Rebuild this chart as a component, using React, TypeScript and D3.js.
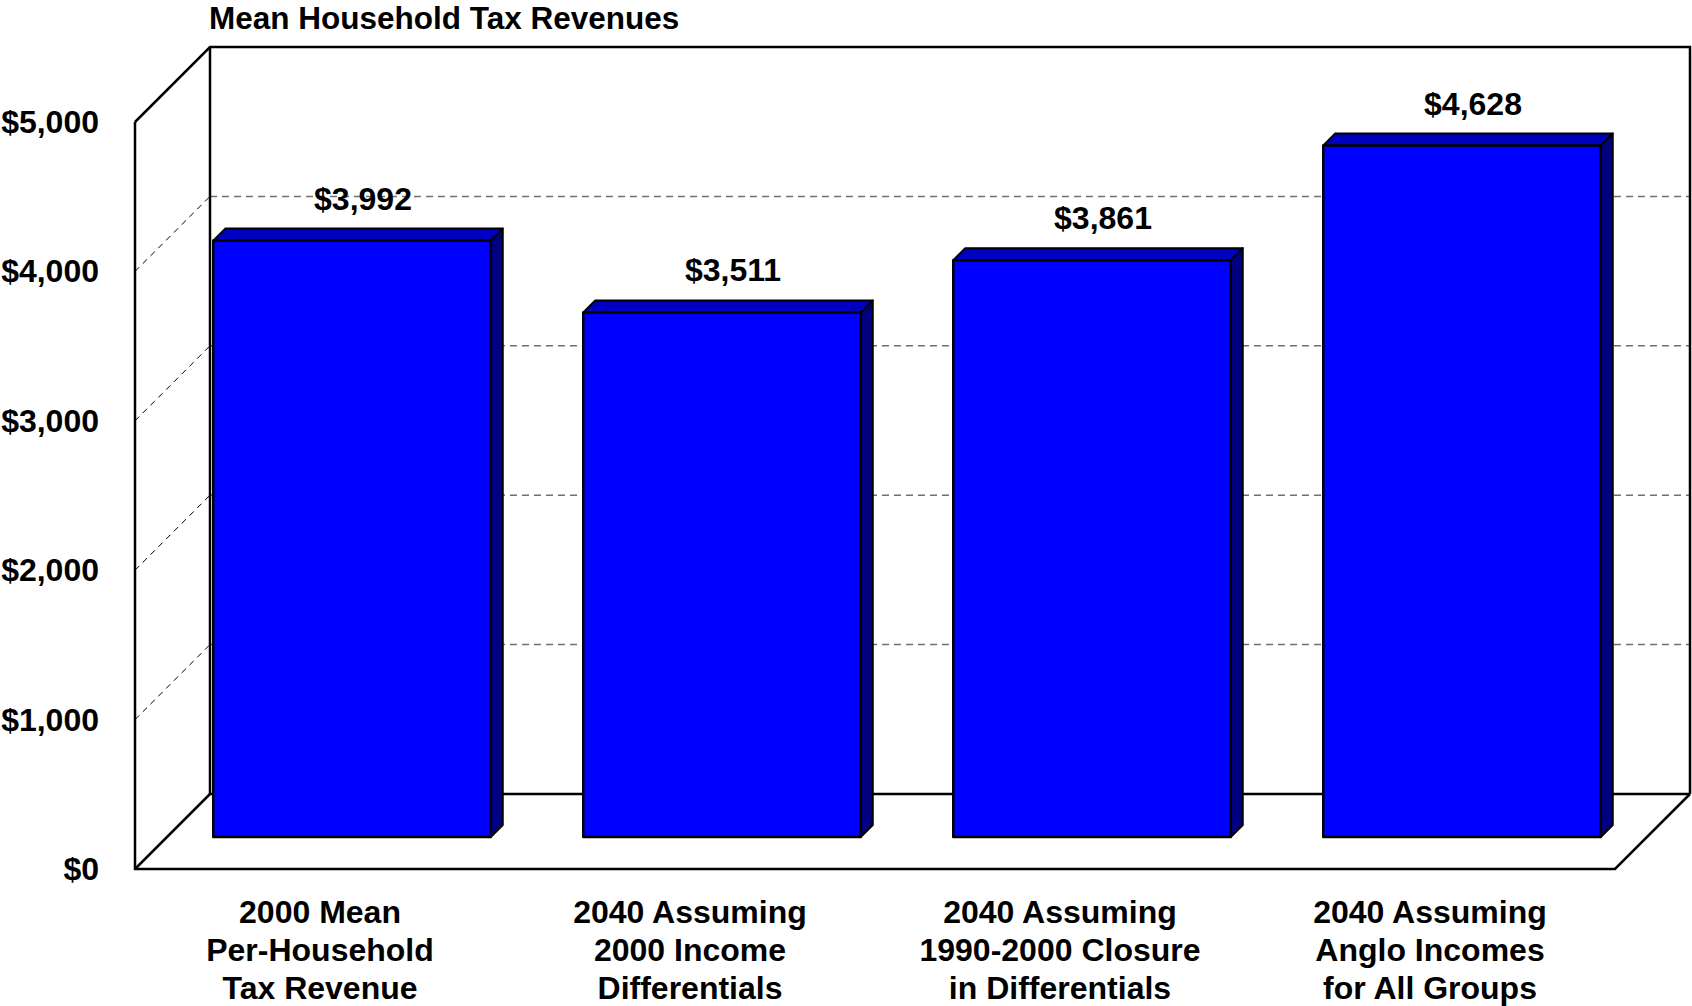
import React from "react";
import * as d3 from "d3";

const title = "Mean Household Tax Revenues";
const categories = [
  ["2000 Mean", "Per-Household", "Tax Revenue"],
  ["2040 Assuming", "2000 Income", "Differentials"],
  ["2040 Assuming", "1990-2000 Closure", "in Differentials"],
  ["2040 Assuming", "Anglo Incomes", "for All Groups"],
];
const values = [3992, 3511, 3861, 4628];
const valueLabels = ["$3,992", "$3,511", "$3,861", "$4,628"];
const yTicks = [0, 1000, 2000, 3000, 4000, 5000];
const yTickLabels = ["$0", "$1,000", "$2,000", "$3,000", "$4,000", "$5,000"];

const W = 1692;
const H = 1006;
const FONT = "'Liberation Sans', Arial, sans-serif";

export default function App() {
  // geometry of the 3D box
  const x0 = 135, x1 = 1615;
  const floorY = 869;
  const depth = 75; // offset to back wall (x +, y -)
  const barDepthFront = 32;
  const barDepth = 12;

  const y = d3.scaleLinear().domain([0, 5000]).range([floorY, 122]);
  const x = d3
    .scaleBand<number>()
    .domain(d3.range(categories.length))
    .range([x0, x1])
    .paddingInner(0.25)
    .paddingOuter(0.125);

  const lw = 2.5;
  const gridTicks = yTicks.filter((t) => t > 0 && t < 5000);

  return (
    <svg
      width={W}
      height={H}
      style={{ position: "absolute", left: 0, top: 0, background: "#fff" }}
      fontFamily={FONT}
      fontWeight="bold"
    >
      <rect x={0} y={0} width={W} height={H} fill="#fff" />
      {/* title */}
      <text x={209} y={29} fontSize={31.5} fill="#000">
        {title}
      </text>

      {/* back wall gridlines */}
      {gridTicks.map((t) => (
        <line
          key={"g" + t}
          x1={x0 + depth}
          x2={x1 + depth}
          y1={y(t) - depth}
          y2={y(t) - depth}
          stroke="#707070"
          strokeWidth={1.5}
          strokeDasharray="7,5"
        />
      ))}
      {/* side wall diagonal gridlines */}
      {gridTicks.map((t) => (
        <line
          key={"d" + t}
          x1={x0}
          x2={x0 + depth}
          y1={y(t)}
          y2={y(t) - depth}
          stroke="#000"
          strokeWidth={1}
          strokeDasharray="6,5"
        />
      ))}

      {/* walls and floor outlines */}
      <g stroke="#000" strokeWidth={lw} fill="none" strokeLinejoin="miter">
        <polyline
          points={`${x0},${y(5000)} ${x0 + depth},${y(5000) - depth} ${x1 + depth},${y(5000) - depth} ${x1 + depth},${floorY - depth}`}
        />
        <line x1={x0 + depth} x2={x0 + depth} y1={y(5000) - depth} y2={floorY - depth} />
        <line x1={x0 + depth} x2={x1 + depth} y1={floorY - depth} y2={floorY - depth} />
        <line x1={x0} x2={x0 + depth} y1={floorY} y2={floorY - depth} />
        <polyline
          points={`${x0},${y(5000)} ${x0},${floorY} ${x1},${floorY} ${x1 + depth},${floorY - depth}`}
        />
      </g>

      {/* bars */}
      {values.map((v, i) => {
        const fx = (x(i) as number) + barDepthFront;
        const w = x.bandwidth();
        const bottom = y(0) - barDepthFront;
        const top = y(v) - barDepthFront;
        const d = barDepth;
        return (
          <g key={"b" + i} stroke="#000" strokeWidth={2} strokeLinejoin="round">
            <polygon
              points={`${fx + w},${top} ${fx + w + d},${top - d} ${fx + w + d},${bottom - d} ${fx + w},${bottom}`}
              fill="#000080"
            />
            <polygon
              points={`${fx},${top} ${fx + d},${top - d} ${fx + w + d},${top - d} ${fx + w},${top}`}
              fill="#0000C0"
            />
            <rect x={fx} y={top} width={w} height={bottom - top} fill="#0000FF" strokeWidth={2.5} />
          </g>
        );
      })}

      {/* value labels */}
      {values.map((v, i) => {
        const cx = (x(i) as number) + barDepthFront + x.bandwidth() / 2 + 11;
        const backTop = y(v) - barDepthFront - barDepth;
        return (
          <text key={"v" + i} x={cx} y={backTop - 19} fontSize={32} textAnchor="middle" fill="#000">
            {valueLabels[i]}
          </text>
        );
      })}

      {/* y tick labels */}
      {yTicks.map((t, i) => (
        <text key={"y" + t} x={99} y={y(t) + 11} fontSize={32} textAnchor="end" fill="#000">
          {yTickLabels[i]}
        </text>
      ))}

      {/* category labels */}
      {categories.map((lines, i) => (
        <text
          key={"c" + i}
          x={(x(i) as number) + x.bandwidth() / 2}
          y={923}
          fontSize={32}
          textAnchor="middle"
          fill="#000"
        >
          {lines.map((ln, j) => (
            <tspan key={j} x={(x(i) as number) + x.bandwidth() / 2} y={923 + j * 38}>
              {ln}
            </tspan>
          ))}
        </text>
      ))}
    </svg>
  );
}
